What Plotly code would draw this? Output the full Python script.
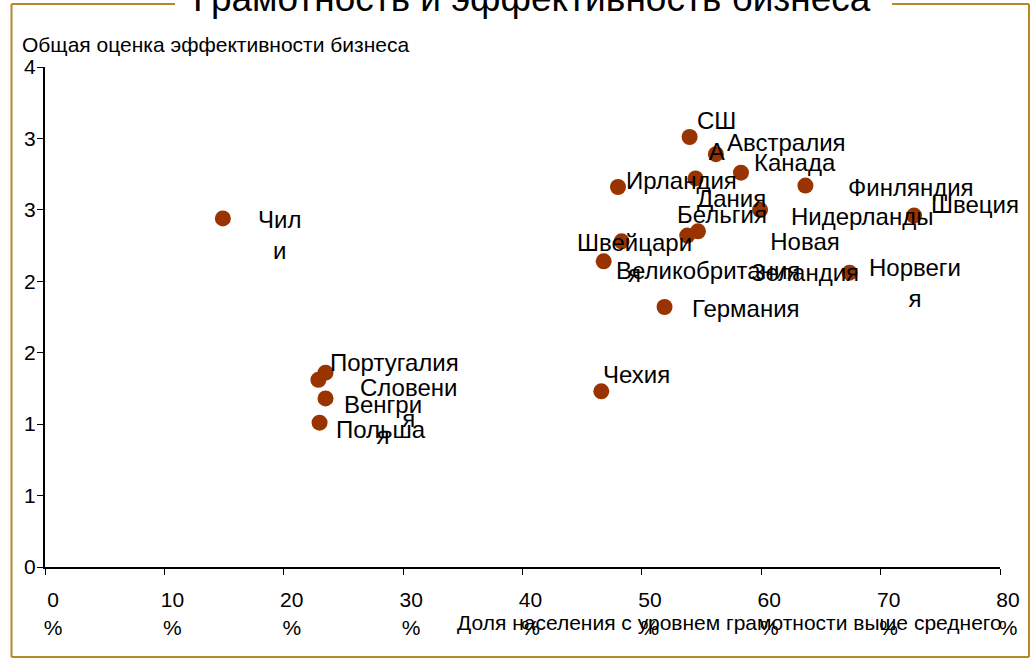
import plotly.graph_objects as go

# ---- data ----
countries = ["Чили", "США", "Австралия", "Канада", "Финляндия", "Швеция", "Нидерланды",
             "Ирландия", "Дания", "Бельгия", "Новая Зеландия", "Норвегия", "Швейцария",
             "Великобритания", "Германия", "Чехия", "Португалия", "Словения", "Венгрия", "Польша"]
literacy = [14.9, 54.0, 56.2, 58.3, 63.7, 72.8, 59.9, 48.0, 54.5, 53.8, 54.7, 67.4, 48.3,
            46.8, 51.9, 46.6, 23.5, 22.9, 23.5, 23.0]
business = [2.44, 3.01, 2.89, 2.76, 2.67, 2.46, 2.50, 2.66, 2.72, 2.32, 2.35, 2.06, 2.28,
            2.14, 1.82, 1.23, 1.36, 1.31, 1.18, 1.01]
label_text = ["Чил<br>и", "СШ<br>А", "Австралия", "Канада", "Финляндия", "Швеция", "Нидерланды",
              "Ирландия", "Дания", "Бельгия", "Новая<br>Зеландия", "Норвеги<br>я", "Швейцари<br>я",
              "Великобритания", "Германия", "Чехия", "Португалия", "Словени<br>я", "Венгри<br>я", "Польша"]
x_tickvals = [0, 10, 20, 30, 40, 50, 60, 70, 80]
x_ticktext = [f"{v}<br>%" for v in x_tickvals]
y_tickvals = [0, 0.5, 1, 1.5, 2, 2.5, 3, 3.5]
y_ticktext = ["0", "1", "1", "2", "2", "3", "3", "4"]

title_text = "Грамотность и эффективность бизнеса"
y_title = "Общая оценка эффективности бизнеса"
x_title = "Доля населения с уровнем грамотности выше среднего"

# ---- style: label offsets in px (dx right, dy down) ----
label_offsets = [(57, 18), (27, 0), (71, -11), (54, -9), (106, 3), (61, -10), (102, 8),
                 (63, -6), (36, 21), (35, -20), (107, 27), (65, 11), (13, 18),
                 (104, 10), (81, 2), (35, -16), (69, -9), (90, 24), (57, 23), (61, 8)]

FONT = "Arial, Liberation Sans, sans-serif"
W, H = 1032, 660
L, R, T, B = 45, 32, 67, 93
PW, PH = W - L - R, H - T - B
BORDER = "#B8862B"


def px_x(p):
    return (p - L) / PW


def px_y(p):
    return (H - B - p) / PH


fig = go.Figure()
fig.add_trace(go.Scatter(
    x=literacy, y=business, mode="markers", text=countries,
    marker=dict(size=16, color="#993300", line=dict(width=0)),
    cliponaxis=False, hoverinfo="text"))

for xv, yv, txt, (dx, dy) in zip(literacy, business, label_text, label_offsets):
    fig.add_annotation(x=xv, y=yv, text=txt, showarrow=False, xanchor="center", yanchor="middle",
                       xshift=dx, yshift=-(dy - 1), align="center",
                       font=dict(family=FONT, size=24, color="black"))

# titles
fig.add_annotation(xref="paper", yref="paper", x=px_x(531.5), y=px_y(21), text=title_text,
                   showarrow=False, xanchor="center", yanchor="bottom",
                   font=dict(family=FONT, size=37, color="black"))
fig.add_annotation(xref="paper", yref="paper", x=px_x(20), y=px_y(45), text=y_title,
                   showarrow=False, xanchor="left", yanchor="middle",
                   font=dict(family=FONT, size=21, color="black"))
fig.add_annotation(xref="paper", yref="paper", x=px_x(729), y=px_y(622), text=x_title,
                   showarrow=False, xanchor="center", yanchor="middle",
                   font=dict(family=FONT, size=21, color="black"))

# border with gap for title
segs = [(11.5, 4, 175, 4), (892, 4, 1029, 4), (1029, 4, 1029, 657),
        (11.5, 657, 1029, 657), (11.5, 4, 11.5, 657)]
for x0, y0, x1, y1 in segs:
    fig.add_shape(type="line", xref="paper", yref="paper",
                  x0=px_x(x0), y0=px_y(y0), x1=px_x(x1), y1=px_y(y1),
                  line=dict(color=BORDER, width=2))

fig.update_layout(
    width=W, height=H, margin=dict(l=L, r=R, t=T, b=B),
    paper_bgcolor="white", plot_bgcolor="white", showlegend=False,
    font=dict(family=FONT, size=21, color="black"),
    xaxis=dict(range=[0, 80], tickmode="array", tickvals=x_tickvals, ticktext=x_ticktext,
               showgrid=False, zeroline=False, showline=True, linecolor="black", linewidth=2,
               ticks="outside", ticklen=6, tickcolor="black", tickwidth=1,
               ticklabelshift=8, ticklabelstandoff=7, tickfont=dict(family=FONT, size=21)),
    yaxis=dict(range=[0, 3.5], tickmode="array", tickvals=y_tickvals, ticktext=y_ticktext,
               showgrid=False, zeroline=False, showline=True, linecolor="black", linewidth=2,
               ticks="outside", ticklen=6, tickcolor="black", tickwidth=1,
               ticklabelstandoff=-3, tickfont=dict(family=FONT, size=21)),
)

fig.write_html("out.html", config={"displayModeBar": False},
               post_script="document.body.style.margin='0px';")
